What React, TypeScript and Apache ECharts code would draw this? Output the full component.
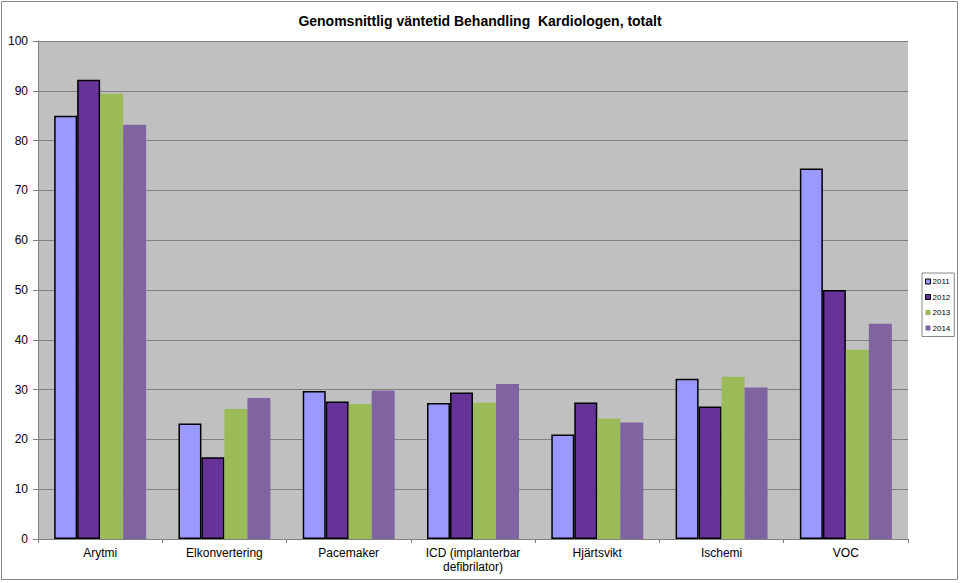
import React, { useEffect, useRef } from "react";
import * as echarts from "echarts";

const categories = ["Arytmi", "Elkonvertering", "Pacemaker", "ICD (implanterbar\ndefibrilator)", "Hjärtsvikt", "Ischemi", "VOC"];
const years = ["2011", "2012", "2013", "2014"];
const v2011 = [85.0, 23.2, 29.7, 27.3, 21.0, 32.2, 74.4];
const v2012 = [92.2, 16.4, 27.6, 29.4, 27.4, 26.6, 50.0];
const v2013 = [89.4, 26.1, 27.1, 27.4, 24.2, 32.6, 38.0];
const v2014 = [83.2, 28.3, 29.8, 31.1, 23.4, 30.4, 43.2];
const yTicks = [0, 10, 20, 30, 40, 50, 60, 70, 80, 90, 100];

const colors = ["#9999FF", "#663399", "#9BBB59", "#8064A2"];
const borders = [1.5, 1.5, 0, 0];

export default function App() {
  const ref = useRef<HTMLDivElement>(null);
  useEffect(() => {
    if (!ref.current) return;
    const chart = echarts.init(ref.current, null, { renderer: "svg" });
    const data = [v2011, v2012, v2013, v2014];
    chart.setOption({
      animation: false,
      textStyle: { fontFamily: "Liberation Sans, Arial, sans-serif" },
      title: {
        text: "Genomsnittlig väntetid Behandling  Kardiologen, totalt",
        left: "center",
        top: 9,
        textStyle: { fontSize: 14, fontWeight: "bold", color: "#000", fontFamily: "Liberation Sans, Arial, sans-serif" },
      },
      graphic: [
        {
          type: "rect",
          shape: { x: 1.5, y: 1.5, width: 956, height: 578 },
          style: { fill: "none", stroke: "#888", lineWidth: 1 },
          silent: true,
        },
      ],
      legend: {
        orient: "vertical",
        left: 922,
        top: 273,
        itemWidth: 5,
        itemHeight: 5,
        itemGap: 7.5,
        padding: [4.5, 4, 4.5, 3],
        borderColor: "#888",
        borderWidth: 1,
        textStyle: { fontSize: 8, color: "#000", padding: [0, 0, 0, -3] },
        data: years.map((y, i) => ({
          name: y,
          icon: "rect",
          itemStyle: { color: colors[i], borderColor: i < 2 ? "#000" : colors[i], borderWidth: i < 2 ? 1 : 0 },
        })),
      },
      grid: { left: 38, right: 52, top: 41, bottom: 44, backgroundColor: "#C0C0C0", show: true, borderWidth: 0 },
      xAxis: {
        type: "category",
        data: categories,
        axisLine: { lineStyle: { color: "#808080", width: 1 } },
        axisTick: { show: true, length: 4, lineStyle: { color: "#808080" } },
        axisLabel: { fontSize: 12, color: "#000", margin: 7, lineHeight: 14, interval: 0 },
      },
      yAxis: {
        type: "value",
        min: 0,
        max: 100,
        interval: 10,
        axisLine: { show: true, lineStyle: { color: "#808080" } },
        axisTick: { show: true, length: 5, lineStyle: { color: "#808080" } },
        axisLabel: { fontSize: 12, color: "#000", margin: 10, formatter: (v: number) => (yTicks.includes(v) ? String(v) : "") },
        splitLine: { lineStyle: { color: "#808080", width: 1 } },
      },
      series: data.map((d, i) => ({
        name: years[i],
        type: "bar",
        data: d,
        barGap: "0%",
        barCategoryGap: "26%",
        itemStyle: { color: colors[i], borderColor: "#000", borderWidth: borders[i] },
      })),
    });
    return () => chart.dispose();
  }, []);
  return <div ref={ref} style={{ position: "fixed", left: 0, top: 0, width: 960, height: 583, background: "#fff" }} />;
}
